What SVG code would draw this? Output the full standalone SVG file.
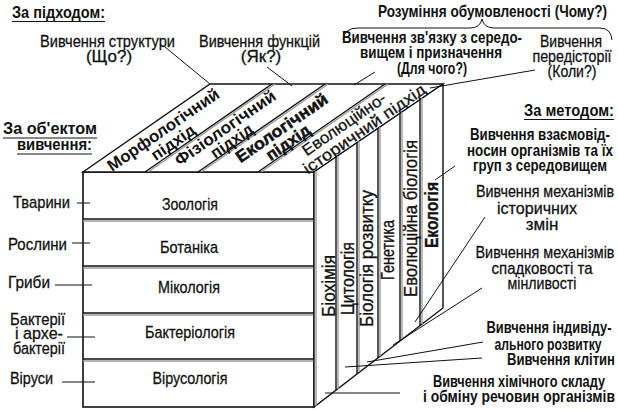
<svg xmlns="http://www.w3.org/2000/svg" width="618" height="410" viewBox="0 0 618 410">
<style>
text{font-family:"Liberation Sans Narrow","Liberation Sans",Arial,sans-serif;fill:#111}
.r{font-size:17px;stroke:#111;stroke-width:0.3}
.b{font-size:17px;font-weight:bold}
.t{font-size:16.5px;font-weight:bold;font-family:"Liberation Sans",Arial,sans-serif}
.tr{font-size:16px;font-family:"Liberation Sans",Arial,sans-serif;stroke:#111;stroke-width:0.3}
.c{font-size:19px;stroke:#111;stroke-width:0.35}
.m{text-anchor:middle}
.e{stroke:#111;stroke-width:1.4;fill:none}
.g{stroke:#9a9a9a;stroke-width:1.4;fill:none}
.l{stroke:#111;stroke-width:1;fill:none}
</style>

<g id="headers">
<text class="b" x="12" y="18" textLength="93" lengthAdjust="spacingAndGlyphs">За підходом:</text>
<line class="l" x1="12" y1="21.5" x2="105" y2="21.5" stroke-width="1.3"/>
<text class="b" x="524" y="116" textLength="90" lengthAdjust="spacingAndGlyphs">За методом:</text>
<line class="l" x1="524" y1="119.5" x2="614" y2="119.5" stroke-width="1.3"/>
<text class="b" x="3" y="134" textLength="94" lengthAdjust="spacingAndGlyphs">За об'ектом</text>
<line class="l" x1="3" y1="138" x2="97" y2="138" stroke-width="1.3"/>
<text class="b" x="17" y="150" textLength="75" lengthAdjust="spacingAndGlyphs">вивчення:</text>
<line class="l" x1="17" y1="154" x2="92" y2="154" stroke-width="1.3"/>
</g>

<g id="cube-front">
<rect x="83" y="172" width="231" height="235" fill="#fff" stroke="#111" stroke-width="1.6"/>
<line class="e" x1="83" y1="219" x2="314" y2="219"/><line class="g" x1="83" y1="221" x2="314" y2="221"/>
<line class="e" x1="83" y1="266" x2="314" y2="266"/><line class="g" x1="83" y1="268" x2="314" y2="268"/>
<line class="e" x1="83" y1="313" x2="314" y2="313"/><line class="g" x1="83" y1="315" x2="314" y2="315"/>
<line class="e" x1="83" y1="359" x2="314" y2="359"/><line class="g" x1="83" y1="361" x2="314" y2="361"/>
</g>

<g id="row-zoology"><text class="r m" x="190" y="210" textLength="56" lengthAdjust="spacingAndGlyphs">Зоологія</text>
<text class="r" x="13" y="208" textLength="57" lengthAdjust="spacingAndGlyphs">Тварини</text><line class="l" x1="77" y1="203" x2="90" y2="203"/></g>
<g id="row-botany"><text class="r m" x="189" y="253" textLength="58" lengthAdjust="spacingAndGlyphs">Ботаніка</text>
<text class="r" x="8" y="250" textLength="59" lengthAdjust="spacingAndGlyphs">Рослини</text><line class="l" x1="72" y1="243" x2="90" y2="243"/></g>
<g id="row-mycology"><text class="r m" x="189" y="293" textLength="62" lengthAdjust="spacingAndGlyphs">Мікологія</text>
<text class="r" x="8" y="288" textLength="42" lengthAdjust="spacingAndGlyphs">Гриби</text><line class="l" x1="55" y1="285" x2="92" y2="285"/></g>
<g id="row-bacteriology"><text class="r m" x="190" y="338" textLength="90" lengthAdjust="spacingAndGlyphs">Бактеріологія</text>
<text class="r" x="10" y="325" textLength="55" lengthAdjust="spacingAndGlyphs">Бактерії</text>
<text class="r" x="15" y="339" textLength="48" lengthAdjust="spacingAndGlyphs">і архе-</text>
<text class="r" x="13" y="354" textLength="52" lengthAdjust="spacingAndGlyphs">бактерії</text>
<line class="l" x1="67" y1="337" x2="95" y2="337"/></g>
<g id="row-virology"><text class="r m" x="190" y="384" textLength="75" lengthAdjust="spacingAndGlyphs">Вірусологія</text>
<text class="r" x="10" y="384" textLength="43" lengthAdjust="spacingAndGlyphs">Віруси</text><line class="l" x1="62" y1="382" x2="95" y2="382"/></g>

<g id="cube-top">
<polygon points="83,172 314,172 443,84 210,84" fill="#fff" stroke="#111" stroke-width="1.4"/>
<line class="e" x1="145" y1="172" x2="272" y2="84"/><line class="g" x1="148" y1="172" x2="275" y2="84"/>
<line class="e" x1="198" y1="172" x2="325" y2="84"/><line class="g" x1="201" y1="172" x2="328" y2="84"/>
<line class="e" x1="258" y1="172" x2="385" y2="84"/><line class="g" x1="261" y1="172" x2="388" y2="84"/>
</g>

<g id="approach-morphological" transform="translate(83,172) rotate(-34.7)">
<text class="t m" x="90" y="16.5" textLength="132" lengthAdjust="spacingAndGlyphs">Морфологічний</text>
<text class="t m" x="91" y="32.5" textLength="50" lengthAdjust="spacingAndGlyphs">підхід</text></g>
<g id="approach-physiological" transform="translate(145,172) rotate(-34.7)">
<text class="t m" x="91" y="15" textLength="119" lengthAdjust="spacingAndGlyphs">Фізіологічний</text>
<text class="t m" x="89" y="29.5" textLength="48" lengthAdjust="spacingAndGlyphs">підхід</text></g>
<g id="approach-ecological" transform="translate(198,172) rotate(-34.7)">
<text class="t m" x="94" y="17" textLength="108" lengthAdjust="spacingAndGlyphs" style="stroke:#111;stroke-width:0.5">Екологічний</text>
<text class="t m" x="91" y="32.5" textLength="50" lengthAdjust="spacingAndGlyphs" style="stroke:#111;stroke-width:0.5">підхід</text></g>
<g id="approach-evolutionary" transform="translate(258,172) rotate(-34.7)">
<text class="tr m" x="98" y="15" textLength="98" lengthAdjust="spacingAndGlyphs">Еволюційно-</text>
<text class="tr m" x="112" y="30.5" textLength="145" lengthAdjust="spacingAndGlyphs">історичний підхід</text></g>

<g id="cube-right">
<polygon points="314,172 443,84 443,308 314,407" fill="#fff" stroke="#111" stroke-width="1.4"/>
<line class="g" x1="316" y1="171" x2="316" y2="406"/>
<line class="e" x1="336" y1="157" x2="336" y2="390"/><line class="g" x1="338" y1="156" x2="338" y2="389"/>
<line class="e" x1="357" y1="143" x2="357" y2="374"/><line class="g" x1="359" y1="141" x2="359" y2="372"/>
<line class="e" x1="378" y1="128" x2="378" y2="358"/><line class="g" x1="380" y1="127" x2="380" y2="356"/>
<line class="e" x1="400" y1="113" x2="400" y2="341"/><line class="g" x1="402" y1="112" x2="402" y2="339"/>
<line class="e" x1="420" y1="100" x2="420" y2="326"/><line class="g" x1="422" y1="98" x2="422" y2="324"/>
</g>

<g id="col-biochemistry"><text class="c m" transform="translate(335,286) rotate(-90)" textLength="62" lengthAdjust="spacingAndGlyphs">Біохімія</text></g>
<g id="col-cytology"><text class="c m" transform="translate(353.5,278.5) rotate(-90)" textLength="73" lengthAdjust="spacingAndGlyphs">Цитологія</text></g>
<g id="col-development"><text class="c m" transform="translate(373,258.5) rotate(-90)" textLength="137" lengthAdjust="spacingAndGlyphs">Біологія розвитку</text></g>
<g id="col-genetics"><text class="c m" transform="translate(394,250) rotate(-90)" textLength="60" lengthAdjust="spacingAndGlyphs">Генетика</text></g>
<g id="col-evolution"><text class="c m" transform="translate(416.5,218.5) rotate(-90)" textLength="157" lengthAdjust="spacingAndGlyphs">Еволюційна біологія</text></g>
<g id="col-ecology"><text class="c m" transform="translate(438,215) rotate(-90)" textLength="66" lengthAdjust="spacingAndGlyphs" font-weight="bold">Екологія</text></g>

<g id="q-structure"><text class="r m" x="107.5" y="47" textLength="135" lengthAdjust="spacingAndGlyphs">Вивчення структури</text>
<text class="r m" x="109" y="62">(Що?)</text></g>
<g id="q-function"><text class="r m" x="259.5" y="47" textLength="121" lengthAdjust="spacingAndGlyphs">Вивчення функцій</text>
<text class="r m" x="261" y="62">(Як?)</text></g>
<g id="q-why"><text class="b m" x="492.5" y="17" textLength="229" lengthAdjust="spacingAndGlyphs">Розуміння обумовленості (Чому?)</text>
<path class="l" d="M343,40 Q344,28 358,28 L470,28 Q480,28 482,19 Q484,28 494,28 L600,28 Q611,28 612,40" stroke-width="1.2"/></g>
<g id="q-purpose"><text class="b m" x="432" y="43" textLength="180" lengthAdjust="spacingAndGlyphs">Вивчення зв'язку з середо-</text>
<text class="b m" x="431" y="58" textLength="142" lengthAdjust="spacingAndGlyphs">вищем і призначення</text>
<text class="b m" x="432" y="74" textLength="70" lengthAdjust="spacingAndGlyphs">(Для чого?)</text></g>
<g id="q-prehistory"><text class="r m" x="571" y="47" textLength="62" lengthAdjust="spacingAndGlyphs">Вивчення</text>
<text class="r m" x="572" y="62" textLength="79" lengthAdjust="spacingAndGlyphs">передісторії</text>
<text class="r m" x="572" y="77" textLength="49" lengthAdjust="spacingAndGlyphs">(Коли?)</text></g>

<g id="m-ecology"><text class="b m" x="540" y="140" textLength="140" lengthAdjust="spacingAndGlyphs">Вивчення взаємовід-</text>
<text class="b m" x="540" y="156" textLength="146" lengthAdjust="spacingAndGlyphs">носин організмів та їх</text>
<text class="b m" x="540" y="171" textLength="134" lengthAdjust="spacingAndGlyphs">груп з середовищем</text></g>
<g id="m-evolution"><text class="r m" x="545" y="197" textLength="138" lengthAdjust="spacingAndGlyphs">Вивчення механізмів</text>
<text class="r m" x="537" y="214" textLength="80" lengthAdjust="spacingAndGlyphs">історичних</text>
<text class="r m" x="542" y="230">змін</text></g>
<g id="m-genetics"><text class="r m" x="545" y="258" textLength="139" lengthAdjust="spacingAndGlyphs">Вивчення механізмів</text>
<text class="r m" x="542" y="274" textLength="101" lengthAdjust="spacingAndGlyphs">спадковості та</text>
<text class="r m" x="542" y="289" textLength="69" lengthAdjust="spacingAndGlyphs">мінливості</text></g>
<g id="m-development"><text class="b m" x="549" y="333" textLength="125" lengthAdjust="spacingAndGlyphs">Вивчення індивіду-</text>
<text class="b m" x="548" y="350" textLength="107" lengthAdjust="spacingAndGlyphs">ального розвитку</text></g>
<g id="m-cytology"><text class="b m" x="561" y="365" textLength="108" lengthAdjust="spacingAndGlyphs">Вивчення клітин</text></g>
<g id="m-biochemistry"><text class="b m" x="519" y="387" textLength="172" lengthAdjust="spacingAndGlyphs">Вивчення хімічного складу</text>
<text class="b m" x="519" y="402" textLength="192" lengthAdjust="spacingAndGlyphs">і обміну речовин організмів</text></g>

<g id="connectors" class="l">
<line x1="165" y1="47" x2="210" y2="84"/>
<line x1="267" y1="67" x2="292" y2="86"/>
<line x1="375" y1="72" x2="354" y2="85"/>
<line x1="535" y1="70" x2="430" y2="88"/>
<line x1="455" y1="166" x2="435" y2="180"/>
<line x1="485" y1="217" x2="415" y2="322"/>
<line x1="482" y1="288" x2="393" y2="345"/>
<line x1="483" y1="342" x2="367" y2="362"/>
<line x1="482" y1="358" x2="345" y2="367"/>
<line x1="400" y1="393" x2="325" y2="393"/>
</g>
</svg>
